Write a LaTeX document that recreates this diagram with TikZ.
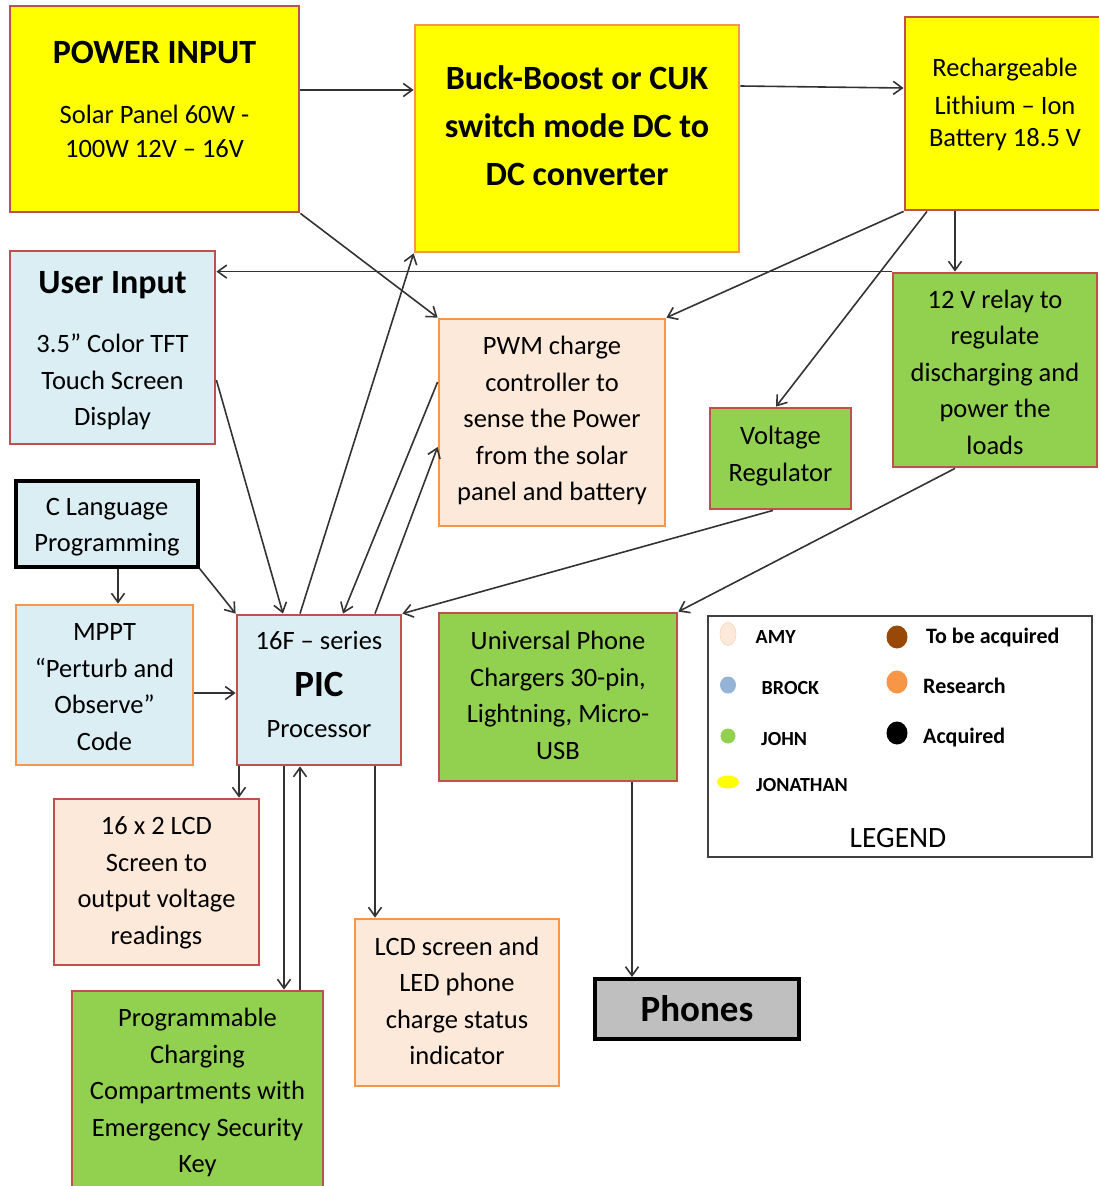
\documentclass[tikz,border=0pt]{standalone}
\usepackage{fontspec}
\setmainfont{Carlito}
\usetikzlibrary{arrows.meta}
\definecolor{boxred}{HTML}{C0504D}
\definecolor{boxorange}{HTML}{F79646}
\definecolor{boxyellow}{HTML}{FFFF00}
\definecolor{boxblue}{HTML}{DBEEF3}
\definecolor{boxpeach}{HTML}{FDE9D9}
\definecolor{boxgreen}{HTML}{92D050}
\definecolor{boxgray}{HTML}{BFBFBF}
\definecolor{brock}{HTML}{95B3D7}
\definecolor{tobuy}{HTML}{984807}
\newcommand{\boxlines}[2][0pt]{\raisebox{#1}[\height][\depth]{\begin{tabular}{@{}c@{}}#2\end{tabular}}}
\newcommand{\titlefont}{\bfseries\fontsize{34}{36.5}\selectfont}
\tikzset{
    basebox/.style={rectangle, line width=2.8pt, inner sep=0pt, font=\fontsize{26.5}{36.5}\selectfont},
    dims/.style 2 args={minimum width=#1pt, minimum height=#2pt},
    yellowbox/.style={basebox, fill=boxyellow},
    bluebox/.style={basebox, fill=boxblue},
    peachbox/.style={basebox, fill=boxpeach},
    greenbox/.style={basebox, fill=boxgreen},
    arr/.style={draw=black!80, line width=1.6pt, -{Straight Barb[length=9pt,width=13pt]}},
    legname/.style={inner sep=0pt, font=\bfseries\fontsize{20}{24}\selectfont},
    legstat/.style={inner sep=0pt, font=\bfseries\fontsize{22}{26}\selectfont}
}
\begin{document}
\begin{tikzpicture}[x=1pt, y=-1pt]
    \fill[white] (0,0) rectangle (1098,1186);
    \useasboundingbox (0,0) rectangle (1098,1186);

    \node[yellowbox, draw=boxred, dims={289}{206}] (pwr) at (154.5,109)
        {\boxlines[6pt]{{\titlefont POWER INPUT}\\[23.5pt] Solar Panel 60W -\\[-2.5pt] 100W 12V – 16V}};
    \node[yellowbox, draw=boxorange, dims={324}{227}, font=\bfseries\fontsize{34}{48}\selectfont] (buck) at (577,138.5)
        {\boxlines[11pt]{Buck-Boost or CUK\\switch mode DC to\\DC converter}};
    \node[yellowbox, draw=boxred, dims={200}{193}] (batt) at (1005,113.5)
        {\boxlines[9pt]{Rechargeable\\[1.5pt] Lithium – Ion\\[-4.5pt] Battery 18.5 V}};
    \node[bluebox, draw=boxred, dims={205}{193}] (user) at (112.5,347.5)
        {\boxlines[-5pt]{{\titlefont User Input}\\[22.5pt] 3.5” Color TFT\\Touch Screen\\Display}};
    \node[peachbox, draw=boxorange, dims={226}{207}] (pwm) at (552,422.5)
        {\boxlines[2pt]{PWM charge\\controller to\\sense the Power\\from the solar\\panel and battery}};
    \node[greenbox, draw=boxred, dims={204}{194}] (relay) at (995,370)
        {\boxlines[-4pt]{12 V relay to\\regulate\\discharging and\\power the\\loads}};
    \node[greenbox, draw=boxred, dims={141}{101}] (vreg) at (780.5,458.5)
        {\boxlines[3pt]{Voltage\\Regulator}};
    \node[bluebox, draw=black, line width=3.5pt, dims={182}{86}] (clang) at (107,524)
        {\boxlines[-2pt]{C Language\\Programming}};
    \node[bluebox, draw=boxorange, dims={177}{160}] (mppt) at (104.5,685)
        {\boxlines[-3pt]{MPPT\\“Perturb and\\Observe”\\Code}};
    \node[bluebox, draw=boxred, dims={164}{150}] (pic) at (319,690)
        {\boxlines[4pt]{16F – series\\[10.5pt]{\bfseries\fontsize{37}{36.5}\selectfont PIC}\\[4.5pt] Processor}};
    \node[greenbox, draw=boxred, dims={238}{168}] (univ) at (558,697)
        {\boxlines{Universal Phone\\Chargers 30-pin,\\Lightning, Micro-\\USB}};
    \node[peachbox, draw=boxred, dims={205}{166}] (lcd) at (156.5,882)
        {\boxlines{16 x 2 LCD\\Screen to\\output voltage\\readings}};
    \node[greenbox, draw=boxred, dims={251}{199}] (prog) at (197.5,1090.5)
        {\boxlines[-2pt]{Programmable\\Charging\\Compartments with\\Emergency Security\\Key}};
    \node[peachbox, draw=boxorange, dims={204}{167}] (lcdled) at (457,1002.5)
        {\boxlines{LCD screen and\\LED phone\\charge status\\indicator}};
    \node[basebox, fill=boxgray, draw=black, line width=4pt, dims={204}{60}, font=\bfseries\fontsize{37}{40}\selectfont] (phones) at (697,1009) {Phones};

    \node[draw=black!75, line width=2pt, inner sep=0pt, dims={384}{241}] (legend) at (900,736.5) {};
    \node[inner sep=0pt, font=\fontsize{29.5}{32}\selectfont] (legtitle) at (898,838) {LEGEND};
    \foreach \i/\dy/\rx/\ry/\col/\tx/\lab in {1/634/8/11.5/boxpeach/755.5/AMY, 2/685/8/8.5/brock/761.5/BROCK, 3/736/7.5/7.5/boxgreen/761/JOHN, 4/782/11/6.5/boxyellow/756/JONATHAN}
    {
        \fill[\col] (728,\dy) ellipse [x radius=\rx, y radius=\ry];
        \node[legname, anchor=west] (who\i) at (\tx,\dy+3) {\lab};
    }
    \draw[boxorange!40, line width=0.6pt] (728,634) ellipse [x radius=8, y radius=11.5];
    \foreach \i/\dy/\col/\tx/\by/\lab in {1/637/tobuy/926/643/To be acquired, 2/682/boxorange/923/693/Research, 3/733/black/923/743/Acquired}
    {
        \fill[\col] (897,\dy) ellipse [x radius=10.5, y radius=11.5];
        \node[legstat, anchor=base west] (stat\i) at (\tx,\by) {\lab};
    }

    \draw[arr] (pwr.east |- 0,90) -- (buck.west |- 0,90);
    \draw[arr] (buck.east |- 0,86) -- (batt.west |- 0,88);
    \draw[arr] (pwr.south east) -- (pwm.north west);
    \draw[arr] (batt.south west) -- (pwm.north east);
    \draw[arr] (batt.south -| 927,0) -- (vreg.north -| 776,0);
    \draw[arr] (batt.south -| 955,0) -- (relay.north -| 955,0);
    \draw[arr] (relay.north west) -- (user.east |- relay.north west);
    \draw[arr] (user.east |- 0,380) -- (pic.north -| 283,0);
    \draw[arr] (pic.north -| 300,0) -- (buck.south west);
    \draw[arr] (pwm.west |- 0,382) -- (pic.north -| 343,0);
    \draw[arr] (pic.north -| 375,0) -- (pwm.west |- 0,447);
    \draw[arr] (vreg.south -| 773,0) -- (pic.north east);
    \draw[arr] (relay.south -| 955,0) -- (univ.north east);
    \draw[arr] (clang.south -| 118,0) -- (mppt.north -| 118,0);
    \draw[arr] (clang.south east) -- (pic.north west);
    \draw[arr] (mppt.east |- 0,693) -- (pic.west |- 0,693);
    \draw[arr] (pic.south -| 239,0) -- (lcd.north -| 239,0);
    \draw[arr] (pic.south -| 284,0) -- (prog.north -| 284,0);
    \draw[arr] (prog.north -| 300,0) -- (pic.south -| 300,0);
    \draw[arr] (pic.south -| 375,0) -- (lcdled.north -| 375,0);
    \draw[arr] (univ.south -| 632,0) -- (phones.north -| 632,0);
\end{tikzpicture}
\end{document}
